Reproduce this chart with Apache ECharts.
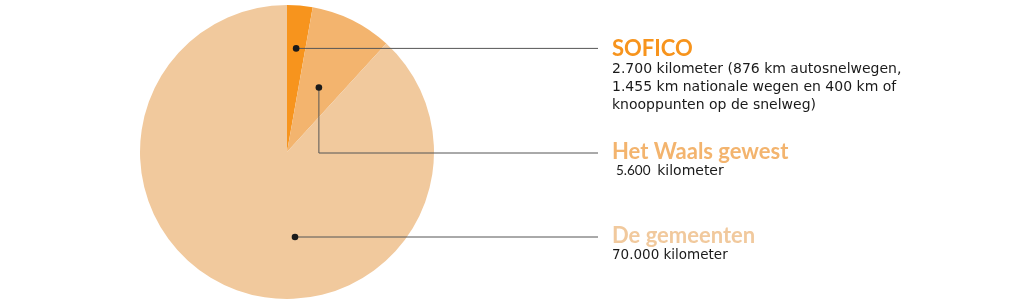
<!DOCTYPE html>
<html><head><meta charset="utf-8">
<script src="https://cdn.jsdelivr.net/npm/echarts@6/dist/echarts.min.js"></script>
<style>html,body{margin:0;padding:0;background:#fff}#c{width:1024px;height:305px}</style>
</head><body><div id="c"></div>
<script>
// Data (slice shares as drawn in the picture, percent)
const categories = ['SOFICO', 'Het Waals gewest', 'De gemeenten'];
const sliceShares = [2.8, 9.0, 88.2];
const subtitles = [
  '2.700 kilometer (876 km autosnelwegen,\n1.455 km nationale wegen en 400 km of\nknooppunten op de snelweg)',
  '5.600',
  '70.000 kilometer'
];
const colors = ['#F7941D', '#F3B46E', '#F1C99D'];

const cx = 287, cy = 152, R = 147;
const total = sliceShares.reduce((a, b) => a + b, 0);
let acc = 0;
const mids = sliceShares.map(v => { const m = acc + v / 2; acc += v; return m / total * 360; });
function pt(angleDeg, r) {
  const a = angleDeg * Math.PI / 180;
  return [cx + r * Math.sin(a), cy - r * Math.cos(a)];
}
const dots = [pt(mids[0], 104), pt(mids[1], 72), [295, 237]];
const labelX = 612, lineEndX = 598;
const titleY = [49, 152, 236];
const lineColor = '#555';
const textColor = '#1a1a1a';

const graphics = [];
graphics.push({type: 'polyline', shape: {points: [dots[0], [lineEndX, dots[0][1]]]}, style: {stroke: lineColor, lineWidth: 1, fill: null}, z: 10});
graphics.push({type: 'polyline', shape: {points: [dots[1], [dots[1][0], 153], [lineEndX, 153]]}, style: {stroke: lineColor, lineWidth: 1, fill: null}, z: 10});
graphics.push({type: 'polyline', shape: {points: [dots[2], [lineEndX, dots[2][1]]]}, style: {stroke: lineColor, lineWidth: 1, fill: null}, z: 10});
dots.forEach(d => graphics.push({type: 'circle', shape: {cx: d[0], cy: d[1], r: 3.3}, style: {fill: '#1a1a1a'}, z: 11}));
categories.forEach((c, i) => graphics.push({
  type: 'text', x: labelX, y: titleY[i], z: 12,
  style: {text: c, fill: colors[i], font: 'bold 22px Lato', verticalAlign: 'middle', align: 'left'}
}));
graphics.push({type: 'text', x: labelX, y: 60.5, z: 12,
  style: {text: subtitles[0], fill: textColor, font: '14px "DejaVu Sans"', lineHeight: 18, verticalAlign: 'top', align: 'left'}});
graphics.push({type: 'text', x: labelX + 4, y: 171, z: 12,
  style: {text: '{a|' + subtitles[1] + '}  {b|kilometer}', fill: textColor, verticalAlign: 'middle', align: 'left',
    rich: {a: {fontFamily: 'Lato', fontSize: 13.5, fill: textColor}, b: {fontFamily: 'DejaVu Sans', fontSize: 14, fill: textColor}}}});
graphics.push({type: 'text', x: labelX, y: 255, z: 12,
  style: {text: subtitles[2], fill: textColor, font: '13.5px "DejaVu Sans"', verticalAlign: 'middle', align: 'left'}});

const chart = echarts.init(document.getElementById('c'), null, {renderer: 'canvas'});
chart.setOption({
  animation: false,
  backgroundColor: '#fff',
  series: [{
    type: 'pie',
    center: [cx, cy],
    radius: [0, R],
    startAngle: 90,
    clockwise: true,
    label: {show: false},
    labelLine: {show: false},
    emphasis: {disabled: true},
    itemStyle: {borderWidth: 0},
    data: categories.map((c, i) => ({name: c, value: sliceShares[i], itemStyle: {color: colors[i]}}))
  }],
  graphic: graphics
});
</script></body></html>
